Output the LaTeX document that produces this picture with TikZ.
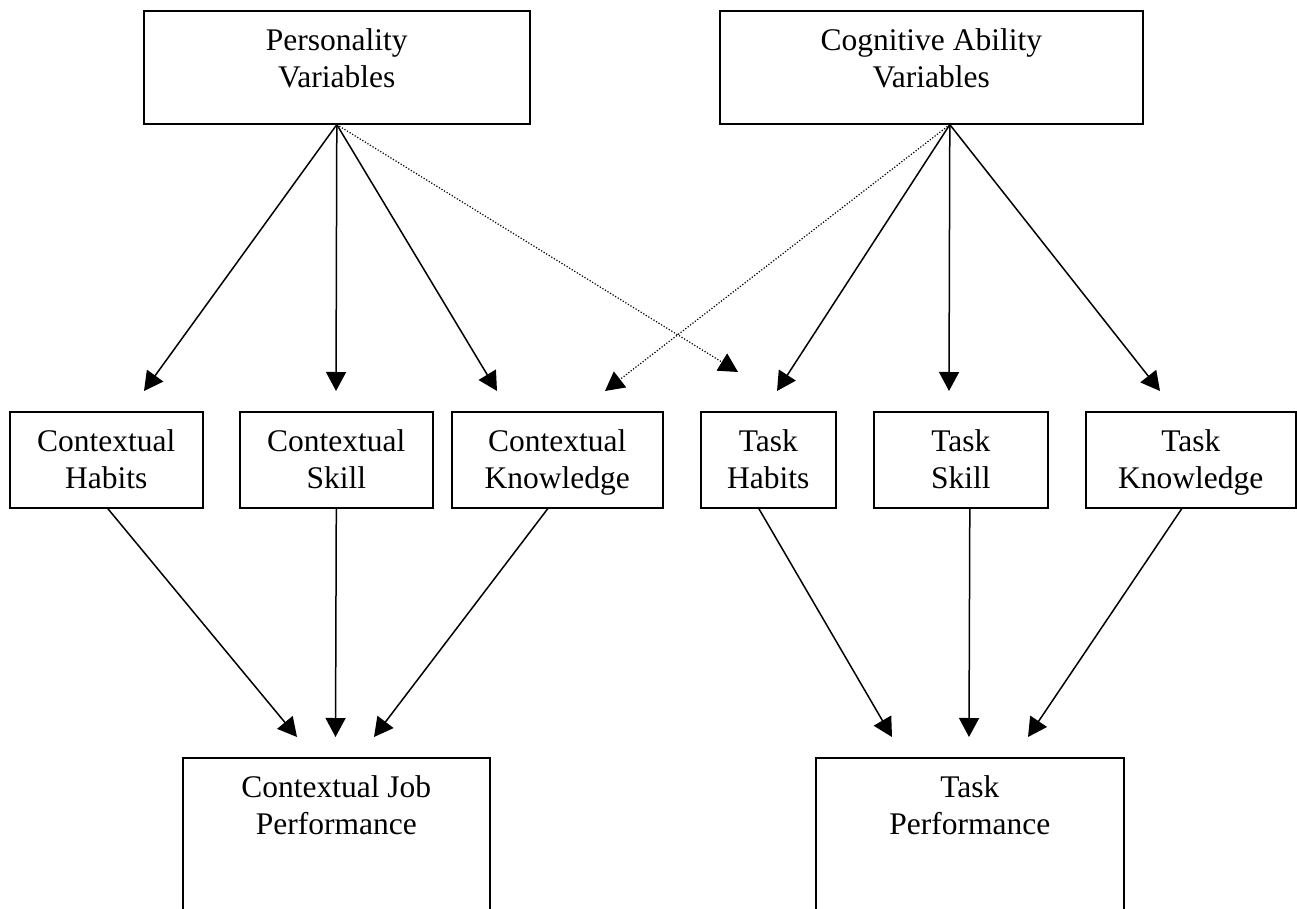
\documentclass[tikz,border=0pt]{standalone}
\usepackage{fontspec}
\setmainfont{Liberation Serif}
\usetikzlibrary{arrows.meta}
\newcommand\fsz{\fontsize{31.5pt}{37pt}\selectfont}
\newcommand\bx[3]{\parbox[t][#2][t]{#1}{\centering\rule{0pt}{39.5pt}#3}}
\begin{document}
\begin{tikzpicture}[x=1pt,y=-1pt,
  box/.style={draw, line width=1.6pt, inner sep=0pt, anchor=north west, font=\fsz},
  arr/.style={line width=1.5pt, -{Triangle[length=19pt,width=20pt]}},
  dotarr/.style={line width=1.2pt, dash pattern=on 1.2pt off 1.8pt, -{Triangle[length=19pt,width=20pt]}}]
\useasboundingbox (0,0) rectangle (1297,909);
\clip (0,0) rectangle (1297,909);
% boxes
\node[box] (pers) at (143,10) {\bx{386pt}{113pt}{Personality\\Variables}};
\node[box] (cog) at (719,10) {\bx{423pt}{113pt}{Cognitive Ability\\Variables}};
\node[box] (ch) at (9,411) {\bx{193pt}{96pt}{Contextual\\Habits}};
\node[box] (cs) at (239,411) {\bx{193pt}{96pt}{Contextual\\Skill}};
\node[box] (ck) at (451,411) {\bx{211pt}{96pt}{Contextual\\Knowledge}};
\node[box] (th) at (700,411) {\bx{135pt}{96pt}{Task\\Habits}};
\node[box] (ts) at (873,411) {\bx{174pt}{96pt}{Task\\Skill}};
\node[box] (tk) at (1085,411) {\bx{210pt}{96pt}{Task\\Knowledge}};
\node[box] (cjp) at (182,757) {\bx{307pt}{200pt}{Contextual Job\\Performance}};
\node[box] (tp) at (815,757) {\bx{308pt}{200pt}{Task\\Performance}};
% connector ends
\coordinate (papex) at (pers.south);
\coordinate (capex) at ([xshift=18.5pt]cog.south);
\coordinate (t1) at (144,391);
\coordinate (t2) at (336,391);
\coordinate (t3) at (497,391);
\coordinate (t4) at (738,372);
\coordinate (t5) at (605,391);
\coordinate (t6) at (777,391);
\coordinate (t7) at (949,391);
\coordinate (t8) at (1160,391);
\coordinate (b1) at (297,737);
\coordinate (b2) at (335.5,737);
\coordinate (b3) at (374,737);
\coordinate (b4) at (892,737);
\coordinate (b5) at (969,737);
\coordinate (b6) at (1028,737);
% top connectors
\draw[arr] (papex) -- (t1);
\draw[arr] (papex) -- (t2);
\draw[arr] (papex) -- (t3);
\draw[dotarr] (papex) -- (t4);
\draw[dotarr] (capex) -- (t5);
\draw[arr] (capex) -- (t6);
\draw[arr] (capex) -- (t7);
\draw[arr] (capex) -- (t8);
% bottom connectors
\draw[arr] ([xshift=1.5pt]ch.south) -- (b1);
\draw[arr] (cs.south) -- (b2);
\draw[arr] ([xshift=-9.5pt]ck.south) -- (b3);
\draw[arr] ([xshift=-9.5pt]th.south) -- (b4);
\draw[arr] ([xshift=9pt]ts.south) -- (b5);
\draw[arr] ([xshift=-9pt]tk.south) -- (b6);
\end{tikzpicture}
\end{document}
